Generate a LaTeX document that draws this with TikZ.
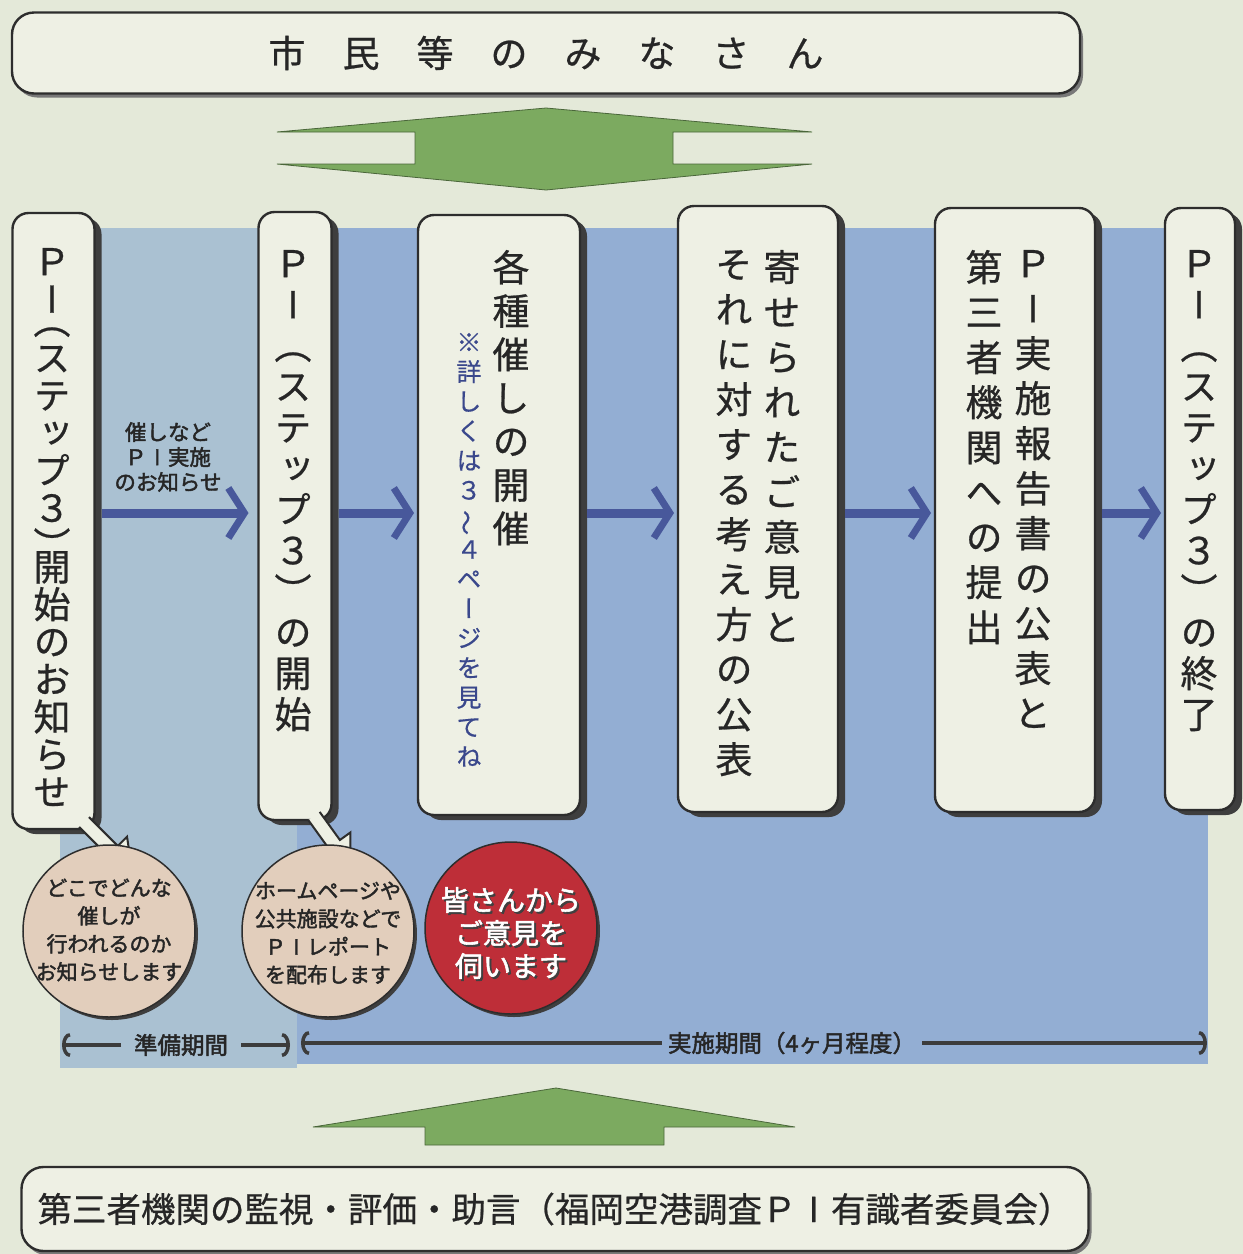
\documentclass[tikz,border=0pt]{standalone}
\usepackage{fontspec}
\usepackage{graphicx}
\newfontfamily\jp[AutoFakeBold=2]{Noto Sans CJK JP}
\newfontfamily\jpm[FakeBold=0.7]{Noto Sans CJK JP}
\newfontfamily\jpv[RawFeature=+vert,FakeBold=0.7]{Noto Sans CJK JP}
\newfontfamily\jpvn[RawFeature=+vert,FakeBold=0.4]{Noto Sans CJK JP}
\newcommand{\barI}{\makebox[1em]{I}}
\newcommand{\vwave}{\rotatebox[origin=c]{90}{\jpm ～}}
\newcommand{\vlp}{\rotatebox[origin=c]{-90}{\jpm （}}
\newcommand{\vrp}{\rotatebox[origin=c]{-90}{\jpm ）}}
\usetikzlibrary{arrows.meta,shadows,calc}
\definecolor{bgc}{RGB}{228,233,217}
\definecolor{boxc}{RGB}{238,240,228}
\definecolor{linec}{RGB}{45,45,45}
\definecolor{shadc}{RGB}{62,62,62}
\definecolor{bluel}{RGB}{170,193,210}
\definecolor{blued}{RGB}{147,174,211}
\definecolor{flowc}{RGB}{72,88,155}
\definecolor{greenc}{RGB}{124,170,96}
\definecolor{tanc}{RGB}{226,206,188}
\definecolor{redc}{RGB}{190,46,56}
\definecolor{notec}{RGB}{58,72,140}
\definecolor{textc}{RGB}{38,38,38}
\begin{document}
\begin{tikzpicture}[x=1pt,y=-1pt,
  every node/.style={font=\jp, text=textc, inner sep=0pt, outer sep=0pt},
  colbox/.style={draw=linec, line width=2.4pt, fill=boxc, rounded corners=16pt,
    general shadow={fill=shadc, shadow xshift=7pt, shadow yshift=-5pt}},
  banner/.style={draw=linec, line width=2.4pt, fill=boxc, rounded corners=22pt,
    general shadow={fill=shadc!70, shadow xshift=3pt, shadow yshift=-4pt}},
  vt/.style={align=center, anchor=north, font=\jpv\fontsize{37}{41}\selectfont},
  flow/.style={draw=flowc, line width=9pt, shorten <=7pt, shorten >=4pt,
    -{Straight Barb[length=16pt, width=50pt, line width=7pt]}},
  tl/.style={draw=textc!90, line width=4.5pt,
    -{Arc Barb[length=8pt, width=24pt, line width=3.5pt]}},
  tltext/.style={font=\jp\bfseries\fontsize{23.5}{27}\selectfont},
  bubble/.style={circle, draw=linec, line width=1.5pt, minimum size=172pt,
    general shadow={fill=shadc, shadow xshift=3pt, shadow yshift=-3pt}},
  pointer/.style={fill=boxc},
  pointerline/.style={draw=linec, line width=2pt, line join=miter},
  greenarrow/.style={fill=greenc, draw=greenc!60!black, line width=0.8pt},
  circtext/.style={align=center, font=\jp\bfseries\fontsize{21}{28}\selectfont},
]
% canvas
\useasboundingbox (0,0) rectangle (1243,1254);
\fill[bgc] (0,0) rectangle (1243,1254);

% blue period panels
\fill[bluel] (60,228) rectangle (297,1068);
\fill[blued] (297,228) rectangle (1208,1064);

% top banner
\node[banner, minimum width=1068pt, minimum height=81pt] (citizens) at (546,53)
  {\jpm\fontsize{37}{40}\selectfont 市\hspace{37pt}民\hspace{37pt}等\hspace{37pt}の\hspace{37pt}み\hspace{37pt}な\hspace{37pt}さ\hspace{37pt}ん};

% top double green arrow
\filldraw[greenarrow] (546,108) -- (812,132) -- (673,132) -- (673,164) -- (812,164)
  -- (546,190) -- (277,164) -- (415,164) -- (415,132) -- (277,132) -- cycle;

% bottom banner
\node[banner, minimum width=1067pt, minimum height=84pt] (panel) at (555,1209)
  {\jpm\fontsize{34.5}{38}\selectfont 第三者機関の監視・評価・助言（福岡空港調査Ｐ\barI 有識者委員会）};

% bottom up green arrow
\filldraw[greenarrow] (556,1088) -- (795,1127) -- (664,1127) -- (664,1145)
  -- (425,1145) -- (425,1127) -- (313,1127) -- cycle;

% columns
\node[colbox, minimum width=82pt,  minimum height=616pt] (c1) at (53.5,521) {};
\node[colbox, minimum width=73pt,  minimum height=608pt] (c2) at (295,516) {};
\node[colbox, minimum width=162pt, minimum height=600pt] (c3) at (499,515) {};
\node[colbox, minimum width=160pt, minimum height=606pt] (c4) at (758,509) {};
\node[colbox, minimum width=160pt, minimum height=604pt] (c5) at (1015,510) {};
\node[colbox, minimum width=70pt,  minimum height=602pt] (c6) at (1200,509) {};

% callout pointers from columns 1 and 2
\coordinate (p1b) at (84,822); \coordinate (p1t) at (132,870);
\coordinate (p1h) at ($(p1t)!27pt!(p1b)$);
\fill[pointer] ($(p1b)!7pt!90:(p1t)$) -- ($(p1h)!7pt!90:(p1t)$) -- ($(p1h)!20pt!90:(p1t)$)
  -- (p1t) -- ($(p1h)!20pt!-90:(p1t)$) -- ($(p1h)!7pt!-90:(p1t)$) -- ($(p1b)!7pt!-90:(p1t)$) -- cycle;
\draw[pointerline] ($(p1b)!7pt!90:(p1t)$) -- ($(p1h)!7pt!90:(p1t)$) -- ($(p1h)!20pt!90:(p1t)$)
  -- (p1t) -- ($(p1h)!20pt!-90:(p1t)$) -- ($(p1h)!7pt!-90:(p1t)$) -- ($(p1b)!7pt!-90:(p1t)$);
\coordinate (p2b) at (314,816); \coordinate (p2t) at (350,866);
\coordinate (p2h) at ($(p2t)!27pt!(p2b)$);
\fill[pointer] ($(p2b)!7pt!90:(p2t)$) -- ($(p2h)!7pt!90:(p2t)$) -- ($(p2h)!20pt!90:(p2t)$)
  -- (p2t) -- ($(p2h)!20pt!-90:(p2t)$) -- ($(p2h)!7pt!-90:(p2t)$) -- ($(p2b)!7pt!-90:(p2t)$) -- cycle;
\draw[pointerline] ($(p2b)!7pt!90:(p2t)$) -- ($(p2h)!7pt!90:(p2t)$) -- ($(p2h)!20pt!90:(p2t)$)
  -- (p2t) -- ($(p2h)!20pt!-90:(p2t)$) -- ($(p2h)!7pt!-90:(p2t)$) -- ($(p2b)!7pt!-90:(p2t)$);

% column texts
\node[vt, font=\jpv\fontsize{37}{37.5}\selectfont] (t1) at (52,248)
  {Ｐ\\I\\[-16pt]\vlp\\ス\\テ\\ッ\\プ\\３\\\vrp\\[-16pt]開\\始\\の\\お\\知\\ら\\せ};
\node[vt] (t2) at (293,250) {Ｐ\\I\\\vlp\\ス\\テ\\ッ\\プ\\３\\\vrp\\の\\開\\始};
\node[vt, font=\jpv\fontsize{37}{43.5}\selectfont] (t3) at (511,250) {各\\種\\催\\し\\の\\開\\催};
\node[vt, font=\jpvn\fontsize{25}{29.6}\selectfont, text=notec] (t3n) at (469,333)
  {※\\詳\\し\\く\\は\\３\\\vwave\\４\\ペ\\ー\\ジ\\を\\見\\て\\ね};
\node[vt, font=\jpv\fontsize{37}{45}\selectfont] (t4a) at (782,250) {寄\\せ\\ら\\れ\\た\\ご\\意\\見\\と};
\node[vt, font=\jpv\fontsize{37}{45}\selectfont] (t4b) at (734,250) {そ\\れ\\に\\対\\す\\る\\考\\え\\方\\の\\公\\表};
\node[vt, font=\jpv\fontsize{37}{45}\selectfont] (t5a) at (1033,250) {Ｐ\\I\\実\\施\\報\\告\\書\\の\\公\\表\\と};
\node[vt, font=\jpv\fontsize{37}{45}\selectfont] (t5b) at (984,250) {第\\三\\者\\機\\関\\へ\\の\\提\\出};
\node[vt] (t6) at (1199,250) {Ｐ\\I\\\vlp\\ス\\テ\\ッ\\プ\\３\\\vrp\\の\\終\\了};

% flow arrows
\coordinate (row) at (0,513);
\draw[flow, shorten >=10pt] (c1.east |- row) -- (c2.west |- row);
\draw[flow] (c2.east |- row) -- (c3.west |- row);
\draw[flow] (c3.east |- row) -- (c4.west |- row);
\draw[flow] (c4.east |- row) -- (c5.west |- row);
\draw[flow] (c5.east |- row) -- (c6.west |- row);
\node[align=center, font=\jp\bfseries\fontsize{21.5}{25}\selectfont] (lbl) at (168,457)
  {催しなど\\Ｐ\barI 実施\\のお知らせ};

% circles
\node[bubble, fill=tanc] (k1) at (109,931) {};
\node[circtext] (k1t) at (109,930) {どこでどんな\\催しが\\行われるのか\\お知らせします};
\node[bubble, fill=tanc] (k2) at (328,931) {};
\node[circtext] (k2t) at (328,933) {ホームページや\\公共施設などで\\Ｐ\barI レポート\\を配布します};
\node[bubble, fill=redc] (k3) at (511,928) {};
\node[align=center, font=\jp\bfseries\fontsize{28}{33}\selectfont, text=black!75] (k3s) at (513,935)
  {皆さんから\\ご意見を\\伺います};
\node[align=center, font=\jp\bfseries\fontsize{28}{33}\selectfont, text=white] (k3t) at (511,933)
  {皆さんから\\ご意見を\\伺います};

% time line
\node[tltext] (prep) at (181,1045) {準備期間};
\node[tltext] (impl) at (792,1043) {実施期間（4ヶ月程度）};
\coordinate (t0) at (62,1045); \coordinate (tm1) at (290,1045);
\coordinate (tm2) at (301,1043); \coordinate (te) at (1207,1043);
\draw[tl, shorten <=13pt] (prep.west) -- (t0);
\draw[tl, shorten <=13pt] (prep.east) -- (tm1);
\draw[tl, shorten <=6pt] (impl.west) -- (tm2);
\draw[tl, shorten <=6pt] (impl.east) -- (te);
\end{tikzpicture}
\end{document}
